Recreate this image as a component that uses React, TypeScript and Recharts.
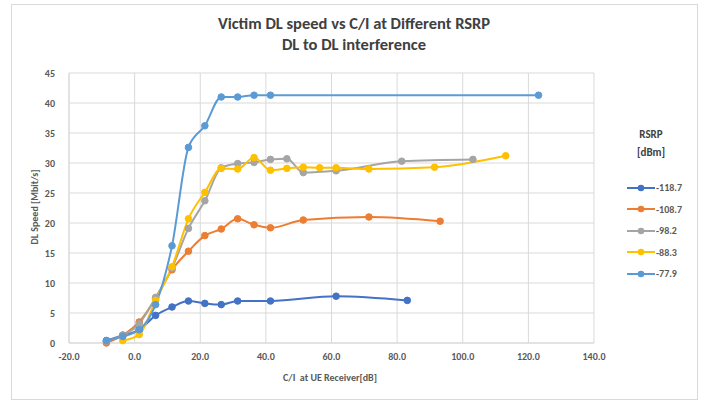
import React from 'react';
import { LineChart, Line, XAxis, YAxis, CartesianGrid } from 'recharts';

// C/I [dB] and DL speed [Mbit/s] per RSRP level
const ci1187 = [-8.6, -3.6, 1.4, 6.4, 11.4, 16.4, 21.4, 26.4, 31.4, 41.4, 61.4, 83.1];
const dl1187 = [0.4, 1.3, 2.2, 4.6, 6.0, 7.0, 6.6, 6.4, 7.0, 7.0, 7.8, 7.1];

const ci1087 = [-8.6, -3.6, 1.4, 6.4, 11.4, 16.4, 21.4, 26.4, 31.4, 36.4, 41.4, 51.4, 71.4, 93.1];
const dl1087 = [0.0, 1.3, 3.5, 7.4, 12.2, 15.3, 17.9, 19.0, 20.7, 19.7, 19.2, 20.5, 21.0, 20.3];

const ci982 = [-8.6, -3.6, 1.4, 6.4, 11.4, 16.4, 21.4, 26.4, 31.4, 36.4, 41.4, 46.4, 51.4, 61.4, 81.4, 103.1];
const dl982 = [0.3, 1.3, 3.2, 7.6, 12.5, 19.1, 23.7, 29.2, 29.9, 30.1, 30.6, 30.7, 28.4, 28.7, 30.3, 30.6];

const ci883 = [-3.6, 1.4, 6.4, 11.4, 16.4, 21.4, 26.4, 31.4, 36.4, 41.4, 46.4, 51.4, 56.4, 61.4, 71.4, 91.4, 113.1];
const dl883 = [0.4, 1.4, 7.1, 12.7, 20.7, 25.1, 29.1, 29.0, 30.9, 28.8, 29.1, 29.3, 29.2, 29.2, 29.0, 29.3, 31.2];

const ci779 = [-8.6, -3.6, 1.4, 6.4, 11.4, 16.4, 21.4, 26.4, 31.4, 36.4, 41.4, 123.1];
const dl779 = [0.4, 1.1, 2.2, 6.4, 16.2, 32.6, 36.2, 41.0, 41.0, 41.3, 41.3, 41.3];

const rsrpNames = ['-118.7', '-108.7', '-98.2', '-88.3', '-77.9'];
const colors = ['#4472C4', '#ED7D31', '#A5A5A5', '#FFC000', '#5B9BD5'];
const xTicks = [-20, 0, 20, 40, 60, 80, 100, 120, 140];
const yTicks = [0, 5, 10, 15, 20, 25, 30, 35, 40, 45];

const toPoints = (xs: number[], ys: number[]) => xs.map((x, i) => ({ x, y: ys[i] }));
const series = [
  toPoints(ci1187, dl1187),
  toPoints(ci1087, dl1087),
  toPoints(ci982, dl982),
  toPoints(ci883, dl883),
  toPoints(ci779, dl779),
];

const font = "Carlito, 'Liberation Sans Narrow', 'Liberation Sans', sans-serif";
const tickStyle = { fontSize: 10, fill: '#595959', fontWeight: 700, fontFamily: font };

const LegendBox = () => (
  <div style={{ position: 'absolute', left: 626, top: 126, fontFamily: font, color: '#404040', fontSize: 11 }}>
    <div style={{ fontWeight: 700, textAlign: 'center', width: 50, lineHeight: '18px', marginBottom: 15 }}>
      RSRP<br />[dBm]
    </div>
    {rsrpNames.map((n, i) => (
      <div key={n} style={{ display: 'flex', alignItems: 'center', height: 21.5 }}>
        <svg width={30} height={10}>
          <line x1={1} y1={5} x2={29} y2={5} stroke={colors[i]} strokeWidth={2} />
          <circle cx={15} cy={5} r={3.3} fill={colors[i]} />
        </svg>
        <span style={{ fontSize: 10, fontWeight: 700, color: '#595959' }}>{n}</span>
      </div>
    ))}
  </div>
);

export default function App() {
  return (
    <div style={{ position: 'absolute', left: 0, top: 0, width: 703, height: 401, background: '#fff' }}>
      <div style={{ position: 'absolute', left: 11, top: 4, width: 685, height: 394, border: '1px solid #d9d9d9' }} />
      <div style={{ position: 'absolute', left: 0, top: 13, width: 708, textAlign: 'center', fontFamily: font, fontWeight: 700, fontSize: 16.5, color: '#404040', lineHeight: '21px' }}>
        Victim DL speed vs C/I at Different RSRP<br />DL to DL interference
      </div>
      <div style={{ position: 'absolute', left: 34, top: 207, transform: 'translate(-50%, -50%) rotate(-90deg)', whiteSpace: 'nowrap', fontFamily: font, fontWeight: 700, fontSize: 10, color: '#595959' }}>
        DL Speed [Mbit/s]
      </div>
      <div style={{ position: 'absolute', left: 330, top: 377, transform: 'translate(-50%, -50%)', whiteSpace: 'nowrap', fontFamily: font, fontWeight: 700, fontSize: 10, color: '#595959' }}>
        C/I&nbsp; at UE Receiver[dB]
      </div>
      <LineChart
        width={703}
        height={401}
        margin={{ top: 73, right: 109, left: 0, bottom: 0 }}
        style={{ position: 'absolute', left: 0, top: 0 }}
      >
        <CartesianGrid stroke="#d9d9d9" />
        <XAxis
          type="number"
          dataKey="x"
          domain={[-20, 140]}
          ticks={xTicks}
          tickFormatter={(v: number) => v.toFixed(1)}
          height={58}
          tick={tickStyle}
          tickLine={false}
          axisLine={{ stroke: '#d9d9d9' }}
          tickMargin={4}
        />
        <YAxis
          type="number"
          dataKey="y"
          domain={[0, 45]}
          ticks={yTicks}
          width={69}
          tick={tickStyle}
          tickLine={false}
          axisLine={{ stroke: '#d9d9d9' }}
          tickMargin={8}
        />
        {series.map((d, i) => (
          <Line
            key={rsrpNames[i]}
            data={d}
            dataKey="y"
            name={rsrpNames[i]}
            type="monotone"
            stroke={colors[i]}
            strokeWidth={2}
            dot={{ r: 3.3, fill: colors[i], stroke: colors[i], strokeWidth: 1 }}
            isAnimationActive={false}
          />
        ))}
      </LineChart>
      <LegendBox />
    </div>
  );
}
